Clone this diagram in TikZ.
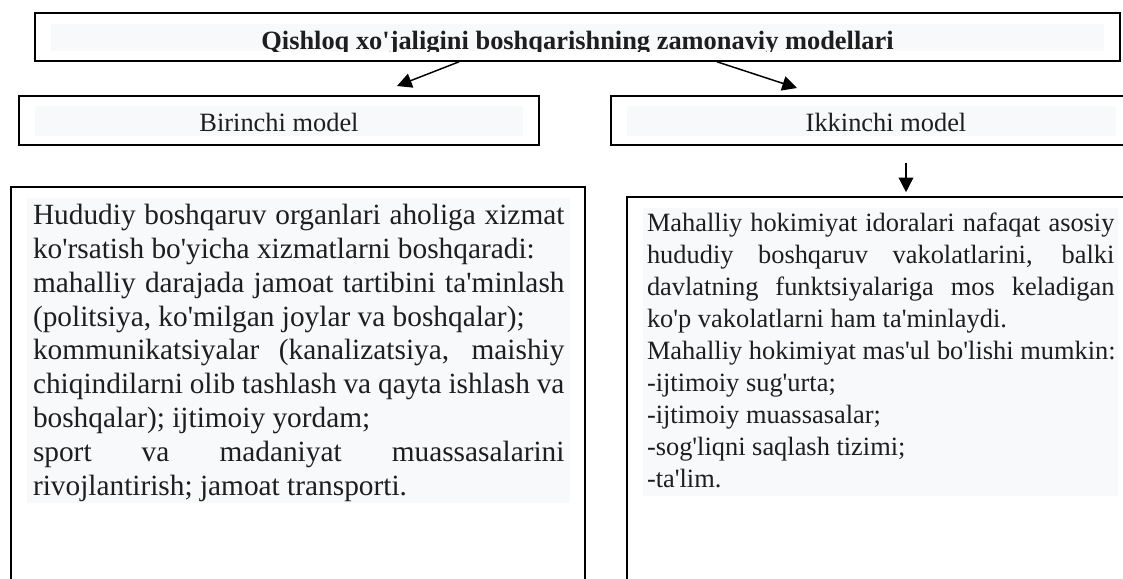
\documentclass[tikz,border=0pt]{standalone}
\usepackage{fontspec}
\setmainfont{Liberation Serif}[Ligatures=TeXOff]
\usepackage{tikz}
\usetikzlibrary{arrows.meta,positioning,calc}
\definecolor{bandfill}{RGB}{248,249,250}
\definecolor{inkc}{RGB}{30,30,30}
\newcommand{\pxu}{0.75pt}
\newcommand{\jline}[1]{\makebox[\linewidth][s]{\spaceskip=0pt\xspaceskip=0pt #1}}
\newcommand{\rline}[1]{\makebox[\linewidth][l]{\spaceskip=0pt\xspaceskip=0pt #1}}
\tikzset{
  outerbox/.style={draw, line width=1.2pt, inner sep=0pt},
  bandbox/.style={fill=bandfill, inner sep=0pt},
  textblock/.style={fill=bandfill, anchor=north west, inner ysep=0pt, align=left, text=inkc},
  headtext/.style={anchor=base, inner sep=0pt, text=inkc, font=\fontsize{19.8}{24}\selectfont},
  modelarrow/.style={-{Triangle[length=11pt,width=11pt]}, line width=1.1pt}
}

\begin{document}
\begin{tikzpicture}[x=0.75pt, y=-0.75pt]
\fill[white, use as bounding box] (0,0) rectangle (1123,578);
\clip (0,0) rectangle (1123,578);
\node[outerbox, minimum width=1085*\pxu, minimum height=48*\pxu] (title) at (577.5,37) {};
\node[bandbox, minimum width=1053*\pxu, minimum height=27*\pxu] (titleband) at (577.5,37.5) {};
\begin{scope}
\clip (titleband.south west) rectangle (titleband.north east);
\node[headtext, font=\fontsize{19.8}{24}\selectfont\bfseries] (titletext) at (577.5,49) {Qishloq xo'jaligini boshqarishning zamonaviy modellari};
\end{scope}
\node[outerbox, minimum width=520*\pxu, minimum height=49*\pxu] (birinchi) at (279,120.5) {};
\node[bandbox, minimum width=488*\pxu, minimum height=30*\pxu] (birinchiband) at (279,121) {};
\node[headtext] (birinchitext) at (279,131) {Birinchi model};
\node[outerbox, minimum width=521*\pxu, minimum height=49*\pxu] (ikkinchi) at (871.5,120.5) {};
\node[bandbox, minimum width=489*\pxu, minimum height=30*\pxu] (ikkinchiband) at (871.5,121) {};
\node[headtext] (ikkinchitext) at (886,131) {Ikkinchi model};
\node[outerbox, minimum width=574*\pxu, minimum height=413*\pxu] (leftbox) at (298,393.5) {};
\node[outerbox, minimum width=513*\pxu, minimum height=403*\pxu] (rightbox) at (883.5,398.5) {};
\node[textblock, inner xsep=4.3pt, text width=398.6pt, font=\fontsize{22}{25.4}\selectfont] (lefttext) at (27,198) {%
\rule{0pt}{19.6pt}\jline{Hududiy boshqaruv organlari aholiga xizmat}\\
\rline{ko'rsatish bo'yicha xizmatlarni boshqaradi:}\\
\jline{mahalliy darajada jamoat tartibini ta'minlash}\\
\rline{(politsiya, ko'milgan joylar va boshqalar);}\\
\jline{kommunikatsiyalar (kanalizatsiya, maishiy}\\
\jline{chiqindilarni olib tashlash va qayta ishlash va}\\
\rline{boshqalar); ijtimoiy yordam;}\\
\jline{sport va madaniyat muassasalarini}\\
\rline{rivojlantirish; jamoat transporti.}\rule[-5.8pt]{0pt}{0pt}};
\node[textblock, inner xsep=2.8pt, text width=350.6pt, font=\fontsize{19.8}{24}\selectfont] (righttext) at (643,208) {%
\rule{0pt}{17.6pt}\jline{Mahalliy hokimiyat idoralari nafaqat asosiy}\\
\jline{hududiy boshqaruv vakolatlarini, balki}\\
\jline{davlatning funktsiyalariga mos keladigan}\\
\rline{ko'p vakolatlarni ham ta'minlaydi.}\\
\rline{Mahalliy hokimiyat mas'ul bo'lishi mumkin:}\\
\rline{-ijtimoiy sug'urta;}\\
\rline{-ijtimoiy muassasalar;}\\
\rline{-sog'liqni saqlash tizimi;}\\
\rline{-ta'lim.}\rule[-6.4pt]{0pt}{0pt}};
\coordinate (leftfoot) at (459,0);
\coordinate (rightfoot) at (717,0);
\coordinate (lefttip) at (397,86);
\coordinate (righttip) at (797,88);
\coordinate (downstart) at (906,163);
\draw[modelarrow] (leftfoot |- title.south) -- (lefttip);
\draw[modelarrow] (rightfoot |- title.south) -- (righttip);
\draw[modelarrow, shorten >=3pt] (downstart) -- (downstart |- rightbox.north);
\end{tikzpicture}
\end{document}
